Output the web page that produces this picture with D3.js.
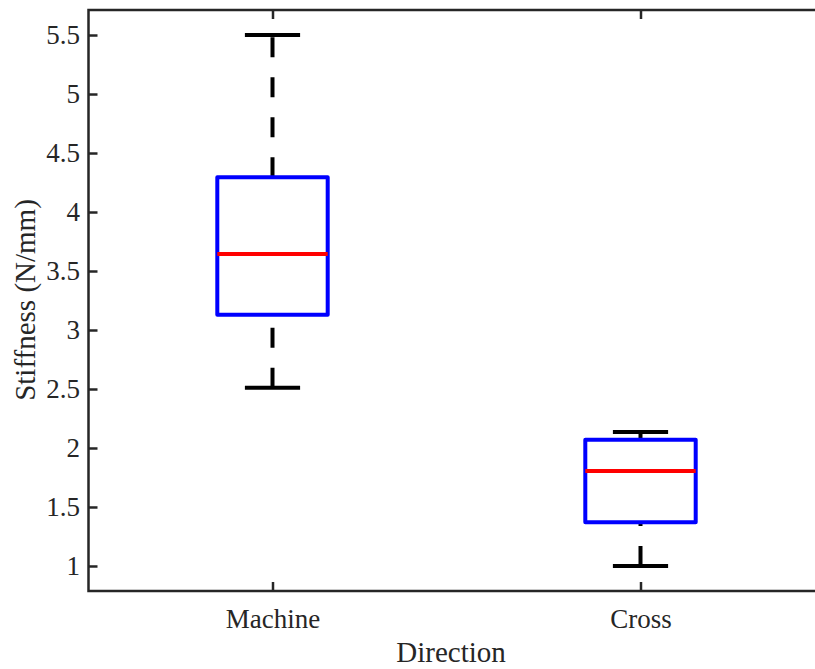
<!DOCTYPE html>
<html><head><meta charset="utf-8">
<script src="https://cdn.jsdelivr.net/npm/d3@7"></script>
<style>body{margin:0;background:#fff;}svg{display:block;}</style>
</head><body>
<script>
const categories = ["Machine", "Cross"];
const lowerWhisker = [2.51, 1.00];
const q1 = [3.13, 1.37];
const median = [3.645, 1.805];
const q3 = [4.295, 2.07];
const upperWhisker = [5.5, 2.135];
const yTicks = [1, 1.5, 2, 2.5, 3, 3.5, 4, 4.5, 5, 5.5];
const yLabel = "Stiffness (N/mm)";
const xLabel = "Direction";

(function () {
const W = 815, H = 669;
const svg = d3.select("body").append("svg").attr("width", W).attr("height", H);
const pLeft = 88.5, pRight = 824.5, pTop = 10, pBottom = 591;
const x = d3.scaleLinear().domain([0.5, 2.5]).range([pLeft, pRight]);
const y = d3.scaleLinear().domain([0.788, 5.712]).range([pBottom, pTop]);
const font = "'Liberation Serif', 'Times New Roman', serif";
const axisColor = "#262626";

const boxW = 0.3, capW = 0.15;
categories.forEach((c, i) => {
  const cx = x(i + 1);
  const g = svg.append("g");
  g.append("line").attr("x1", cx).attr("x2", cx)
    .attr("y1", y(q3[i])).attr("y2", y(upperWhisker[i]))
    .attr("stroke", "#000").attr("stroke-width", 4).attr("stroke-dasharray", "20,20");
  g.append("line").attr("x1", cx).attr("x2", cx)
    .attr("y1", y(lowerWhisker[i])).attr("y2", y(q1[i]))
    .attr("stroke", "#000").attr("stroke-width", 4).attr("stroke-dasharray", "20,20");
  [upperWhisker[i], lowerWhisker[i]].forEach(v => {
    g.append("line").attr("x1", x(i + 1 - capW / 2)).attr("x2", x(i + 1 + capW / 2))
      .attr("y1", y(v)).attr("y2", y(v)).attr("stroke", "#000").attr("stroke-width", 4);
  });
  g.append("rect").attr("x", x(i + 1 - boxW / 2)).attr("y", y(q3[i]))
    .attr("width", x(i + 1 + boxW / 2) - x(i + 1 - boxW / 2))
    .attr("height", y(q1[i]) - y(q3[i]))
    .attr("fill", "none").attr("stroke", "#0000ff").attr("stroke-width", 4)
    .attr("stroke-linejoin", "round");
  g.append("line").attr("x1", x(i + 1 - boxW / 2)).attr("x2", x(i + 1 + boxW / 2))
    .attr("y1", y(median[i])).attr("y2", y(median[i]))
    .attr("stroke", "#ff0000").attr("stroke-width", 4);
});

const frame = svg.append("g").attr("stroke", axisColor).attr("stroke-width", 2.5).attr("fill", "none");
frame.append("path").attr("d", `M${pLeft},${pTop}H${pRight}V${pBottom}H${pLeft}Z`);

const yAxis = d3.axisLeft(y).tickValues(yTicks).tickSize(-9).tickPadding(8.5).tickFormat(d3.format("~g"));
const ya = svg.append("g").attr("transform", `translate(${pLeft},0)`).call(yAxis);
ya.select(".domain").remove();
ya.selectAll(".tick line").attr("stroke", axisColor).attr("stroke-width", 2.5);
ya.selectAll(".tick text").attr("font-family", font).attr("font-size", 27).attr("fill", axisColor);

const xAxis = d3.axisBottom(x).tickValues([1, 2]).tickSize(-9).tickPadding(18)
  .tickFormat((d) => categories[d - 1]);
const xa = svg.append("g").attr("transform", `translate(0,${pBottom})`).call(xAxis);
xa.select(".domain").remove();
xa.selectAll(".tick line").attr("stroke", axisColor).attr("stroke-width", 2.5);
xa.selectAll(".tick text").attr("font-family", font).attr("font-size", 27).attr("fill", axisColor);

const xt = svg.append("g").attr("transform", `translate(0,${pTop})`).call(d3.axisTop(x).tickValues([1, 2]).tickSize(-9).tickFormat(""));
xt.select(".domain").remove();
xt.selectAll(".tick line").attr("stroke", axisColor).attr("stroke-width", 2.5);

svg.append("text").attr("x", 451).attr("y", 662)
  .attr("text-anchor", "middle").attr("font-family", font).attr("font-size", 29).attr("fill", axisColor)
  .text(xLabel);
svg.append("text").attr("transform", `translate(35,300) rotate(-90)`)
  .attr("text-anchor", "middle").attr("font-family", font).attr("font-size", 29).attr("fill", axisColor)
  .text(yLabel);
})();
</script>
</body></html>
